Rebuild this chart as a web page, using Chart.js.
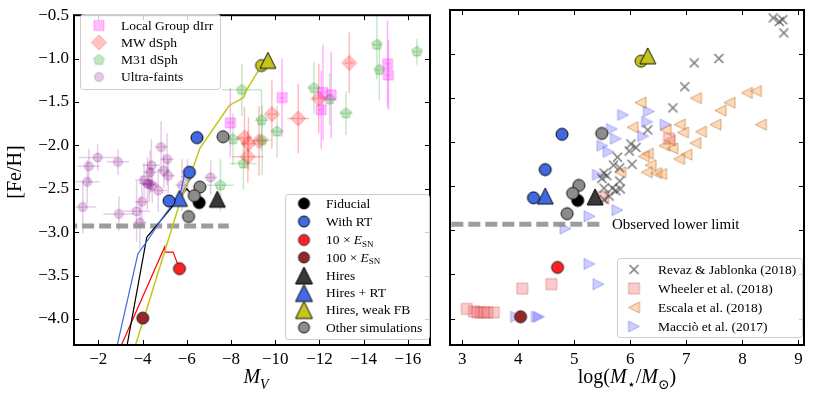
<!DOCTYPE html>
<html>
<head>
<meta charset="utf-8">
<script src="https://cdn.jsdelivr.net/npm/chart.js@4.4.1/dist/chart.umd.min.js"></script>
<style>
  html, body { margin: 0; padding: 0; background: #fff; }
  #wrap { position: relative; width: 814px; height: 393px; }
  canvas { position: absolute; top: 0; }
  #left { left: 0; }
  #right { left: 440px; }
</style>
</head>
<body>
<div id="wrap">
  <canvas id="left" width="440" height="393"></canvas>
  <canvas id="right" width="374" height="393"></canvas>
</div>
<script>
'use strict';

const SERIF = '"Liberation Serif", "DejaVu Serif", serif';

// axes
const MV_RANGE = [-17.0, -0.9];
const LOGM_RANGE = [2.78, 9.1];
const FEH_RANGE = [-4.3, -0.5];
const MV_TICKS = [-2, -4, -6, -8, -10, -12, -14, -16];
const LOGM_TICKS = [3, 4, 5, 6, 7, 8, 9];
const FEH_TICKS = [-4.0, -3.5, -3.0, -2.5, -2.0, -1.5, -1.0, -0.5];

// observed lower limit
const LIMIT_FEH = -2.93;
const LIMIT_MV = [-0.5, -7.9];
const LIMIT_LOGM = [2.5, 5.5];

// observations, left panel: [M_V, [Fe/H]] and [xerr, yerr]
const DIRR = [[-7.97,-1.74],[-10.31,-1.45],[-12.16,-1.39],[-12.53,-1.42],[-12.08,-1.59],[-15.08,-1.06],[-15.12,-1.19]];
const DIRR_ERR = [[0.15,0.4],[0.1,0.45],[0.1,0.55],[0.1,0.5],[0.1,0.45],[0.1,0.5],[0.1,0.4]];
const MW = [[-8.61,-1.91],[-8.79,-1.98],[-8.76,-2.13],[-9.27,-1.95],[-9.85,-1.64],[-11.04,-1.69],[-11.97,-1.46],[-13.35,-1.05]];
const MW_ERR = [[0.3,0.35],[0.3,0.3],[0.7,0.3],[0.3,0.4],[0.2,0.4],[0.5,0.4],[0.3,0.4],[0.2,0.35]];
const M31 = [[-8.49,-1.36],[-8.09,-1.93],[-8.56,-2.21],[-9.38,-1.71],[-9.41,-1.94],[-10.08,-1.84],[-11.75,-1.34],[-13.2,-1.63],[-14.6,-0.84],[-14.71,-1.13],[-16.41,-0.92],[-7.52,-2.46],[-12.46,-1.47]];
const M31_ERR = [[0.9,0.3],[0.4,0.3],[0.6,0.3],[0.3,0.35],[0.4,0.4],[0.3,0.3],[0.3,0.3],[0.3,0.25],[0.2,0.4],[0.2,0.35],[0.2,0.15],[0.6,0.3],[0.3,0.3]];
const UFD = [[-1.5,-2.42],[-1.57,-2.24],[-1.97,-2.14],[-2.89,-2.19],[-4.84,-2.02],[-4.4,-2.23],[-5.11,-2.16],[-4.96,-2.29],[-5.16,-2.35],[-4.34,-2.31],[-4.07,-2.40],[-4.22,-2.44],[-4.44,-2.46],[-4.71,-2.52],[-5.78,-2.46],[-7.08,-2.37],[-1.3,-2.71],[-2.93,-2.79],[-3.73,-2.76],[-3.97,-2.65],[-3.88,-2.89],[-4.3,-2.45],[-6.03,-2.36]];
const UFD_ERR = [[0.55,0.25],[0.5,0.2],[0.85,0.15],[0.5,0.15],[0.3,0.3],[0.4,0.3],[0.3,0.3],[0.3,0.2],[0.3,0.2],[0.3,0.25],[0.4,0.2],[0.4,0.3],[0.3,0.2],[0.4,0.25],[0.3,0.3],[0.3,0.2],[0.6,0.3],[0.7,0.2],[0.6,0.35],[0.3,0.3],[0.3,0.3],[0.3,0.2],[0.3,0.2]];

// simulation tracks, left panel
const TRACK_WEAKFB = [[-3.44,-4.5],[-5.7,-2.65],[-5.94,-2.5],[-6.6,-2.03],[-7.92,-1.54],[-8.56,-1.45],[-8.71,-1.36],[-9.38,-1.08]];
const TRACK_RT = [[-2.68,-4.5],[-3.79,-3.25],[-3.9,-3.21],[-4.19,-3.11],[-4.86,-2.85],[-5.38,-2.67],[-5.75,-2.52],[-5.9,-2.33],[-6.19,-2.37],[-5.67,-2.61]];
const TRACK_FID = [[-3.16,-4.5],[-4.19,-3.06],[-5.3,-2.72],[-5.75,-2.58],[-6.0,-2.5],[-6.56,-2.66]];
const TRACK_E10 = [[-2.7,-4.5],[-5.0,-3.17],[-5.0,-3.23],[-5.38,-3.23],[-5.67,-3.42]];

// simulations, left panel [M_V, [Fe/H]]
const L_FIDUCIAL = [[-6.56,-2.66]];
const L_RT = [[-5.2,-2.64],[-6.12,-2.31],[-6.46,-1.91]];
const L_E10 = [[-5.67,-3.42]];
const L_E100 = [[-4.01,-3.99]];
const L_HIRES = [[-7.38,-2.62]];
const L_HIRES_RT = [[-5.67,-2.61]];
const L_WEAKFB = [[-9.67,-1.02]];
const L_WEAKFB_END = [[-9.38,-1.08]];
const L_OTHER = [[-7.64,-1.9],[-6.59,-2.48],[-6.34,-2.58],[-6.08,-2.82]];

// simulations, right panel [log M*, [Fe/H]]
const R_FIDUCIAL = [[5.06,-2.66]];
const R_RT = [[4.27,-2.63],[4.48,-2.31],[4.78,-1.91]];
const R_E10 = [[4.70,-3.42]];
const R_E100 = [[4.04,-3.98]];
const R_HIRES = [[5.37,-2.62]];
const R_HIRES_RT = [[4.48,-2.61]];
const R_WEAKFB = [[6.31,-1.02]];
const R_WEAKFB_END = [[6.19,-1.08]];
const R_OTHER = [[5.49,-1.90],[5.08,-2.49],[4.97,-2.58],[4.87,-2.81]];

// other simulations, right panel
const REVAZ = [[8.55,-0.59],[8.66,-0.63],[8.72,-0.61],[8.74,-0.76],[7.14,-1.10],[7.58,-1.05],[6.97,-1.37],[6.76,-1.61],[6.31,-1.86],[6.01,-2.02],[6.10,-2.06],[5.98,-2.10],[5.77,-2.17],[5.70,-2.26],[5.81,-2.29],[6.03,-2.25],[5.53,-2.35],[5.49,-2.41],[5.58,-2.38],[5.81,-2.44],[5.82,-2.53],[5.74,-2.55],[5.62,-2.61],[5.53,-2.65],[5.53,-2.52],[5.68,-2.52]];
const WHEELER = [[3.08,-3.89],[3.21,-3.92],[3.27,-3.93],[3.33,-3.93],[3.39,-3.93],[3.45,-3.93],[3.56,-3.93],[4.07,-3.66],[4.59,-3.61],[5.52,-2.62],[6.69,-1.96]];
const ESCALA = [[6.18,-1.55],[7.17,-1.50],[7.61,-1.64],[7.77,-1.55],[8.08,-1.44],[8.24,-1.42],[8.33,-1.80],[7.52,-1.80],[7.26,-1.88],[7.16,-2.01],[7.0,-2.14],[6.87,-2.19],[6.88,-1.80],[6.94,-1.89],[6.63,-1.86],[6.61,-2.04],[6.75,-2.07],[6.04,-1.83],[6.31,-2.13],[6.24,-2.16],[6.36,-2.26],[6.29,-2.34],[6.46,-2.35],[6.55,-2.36],[5.82,-2.34],[6.70,-1.98]];
const MACCIO = [[5.87,-1.69],[6.33,-1.65],[6.30,-1.77],[6.63,-1.80],[6.23,-1.93],[5.67,-1.85],[5.74,-1.96],[5.50,-2.04],[5.61,-2.11],[5.42,-2.37],[5.77,-2.77],[5.27,-2.84],[4.84,-2.98],[5.27,-3.38],[5.43,-3.61],[4.37,-3.98],[4.33,-3.98],[3.96,-3.98]];

// --- markers (matplotlib-like shapes as small canvases) ---
function marker(shape, size, fill, stroke, lw = 1) {
  const pad = Math.ceil(lw) + 1;
  const s = Math.ceil(size) + 2 * pad;
  const c = document.createElement('canvas');
  c.width = s; c.height = s;
  const g = c.getContext('2d');
  const m = s / 2, r = size / 2;
  g.beginPath();
  if (shape === 'circle') g.arc(m, m, r, 0, Math.PI * 2);
  else if (shape === 'square') g.rect(m - r, m - r, size, size);
  else if (shape === 'diamond') { g.moveTo(m, m - r); g.lineTo(m + r, m); g.lineTo(m, m + r); g.lineTo(m - r, m); g.closePath(); }
  else if (shape === 'pentagon') {
    for (let i = 0; i < 5; i++) {
      const a = -Math.PI / 2 + i * 2 * Math.PI / 5;
      g.lineTo(m + r * Math.cos(a), m + r * Math.sin(a));
    }
    g.closePath();
  }
  else if (shape === 'tri-up') { g.moveTo(m, m - r); g.lineTo(m + r, m + r); g.lineTo(m - r, m + r); g.closePath(); }
  else if (shape === 'tri-left') { g.moveTo(m - r, m); g.lineTo(m + r, m - r); g.lineTo(m + r, m + r); g.closePath(); }
  else if (shape === 'tri-right') { g.moveTo(m + r, m); g.lineTo(m - r, m - r); g.lineTo(m - r, m + r); g.closePath(); }
  else if (shape === 'x') { g.moveTo(m - r, m - r); g.lineTo(m + r, m + r); g.moveTo(m + r, m - r); g.lineTo(m - r, m + r); }
  if (shape !== 'x') { g.fillStyle = fill; g.fill(); }
  if (stroke && lw) { g.lineWidth = lw; g.strokeStyle = stroke; g.stroke(); }
  return c;
}

const MK = {
  dirr:    marker('square', 10, 'rgba(255,0,255,0.25)', 'rgba(255,0,255,0.3)'),
  mw:      marker('diamond', 15, 'rgba(255,40,40,0.28)', 'rgba(255,40,40,0.35)'),
  m31:     marker('pentagon', 11, 'rgba(40,160,40,0.28)', 'rgba(40,160,40,0.35)'),
  ufd:     marker('circle', 9, 'rgba(128,0,128,0.22)', 'rgba(128,0,128,0.25)'),
  fid:     marker('circle', 12, '#000', '#000'),
  rt:      marker('circle', 12, '#4169e1', '#000'),
  e10:     marker('circle', 12, '#ff2020', '#222'),
  e100:    marker('circle', 12, '#992626', '#222'),
  other:   marker('circle', 12, '#8c8c8c', '#111'),
  weakEnd: marker('circle', 12, '#c4c41a', '#222'),
  hires:   marker('tri-up', 16, '#383838', '#000'),
  hiresRt: marker('tri-up', 16, '#4169e1', '#111'),
  weak:    marker('tri-up', 16, '#c4c41a', '#111'),
  revaz:   marker('x', 9, null, 'rgba(50,50,50,0.65)', 1.5),
  wheeler: marker('square', 11, 'rgba(240,110,110,0.35)', 'rgba(200,70,70,0.4)'),
  escala:  marker('tri-left', 11, 'rgba(255,160,70,0.4)', 'rgba(170,100,40,0.5)'),
  maccio:  marker('tri-right', 11, 'rgba(90,90,255,0.3)', 'rgba(70,70,220,0.35)'),
};
const LMK = {
  fid:     marker('circle', 11, '#000', '#000'),
  rt:      marker('circle', 11, '#4169e1', '#000'),
  e10:     marker('circle', 11, '#ff2020', '#222'),
  e100:    marker('circle', 11, '#992626', '#222'),
  other:   marker('circle', 11, '#8c8c8c', '#111'),
  hires:   marker('tri-up', 17, '#383838', '#000'),
  hiresRt: marker('tri-up', 17, '#4169e1', '#111'),
  weak:    marker('tri-up', 17, '#c4c41a', '#111'),
};

const pts = a => a.map(([x, y]) => ({ x, y }));

function scatterSet(data, mk, order, err, errColor) {
  return {
    data: pts(data), pointStyle: mk, pointRadius: mk.width / 2, pointHoverRadius: mk.width / 2,
    borderWidth: 0, backgroundColor: 'rgba(0,0,0,0)', borderColor: 'rgba(0,0,0,0)',
    showLine: false, order, err, errColor,
  };
}
function lineSet(data, color, width, order, dash) {
  return {
    data: pts(data), showLine: true, pointRadius: 0, borderColor: color, borderWidth: width,
    borderDash: dash || [], borderCapStyle: 'butt', tension: 0, order, fill: false,
  };
}

// --- rich text (italics / subscripts) ---
function drawParts(ctx, parts, x, y, size, align) {
  const seg = parts.map(([t, f = '']) => {
    const sub = f.includes('s');
    const fs = sub ? Math.round(size * 0.7) : size;
    const font = (f.includes('i') ? 'italic ' : '') + fs + 'px ' + SERIF;
    ctx.font = font;
    return { t, font, w: ctx.measureText(t).width, dy: sub ? size * 0.28 : 0 };
  });
  const total = seg.reduce((a, s) => a + s.w, 0);
  let cx = align === 'center' ? x - total / 2 : x;
  ctx.textAlign = 'left';
  seg.forEach(s => { ctx.font = s.font; ctx.fillText(s.t, cx, y + s.dy); cx += s.w; });
}

// frame, inward ticks, titles, legends
function panelPlugin(spec) {
  return {
    id: 'panel',
    beforeDatasetsDraw(chart) {
      const { ctx, chartArea: a, scales: { x, y } } = chart;
      ctx.save();
      ctx.beginPath(); ctx.rect(a.left, a.top, a.right - a.left, a.bottom - a.top); ctx.clip();
      chart.data.datasets.forEach(ds => {
        if (!ds.err) return;
        ctx.strokeStyle = ds.errColor; ctx.lineWidth = 1.5;
        ds.data.forEach((p, i) => {
          const [ex, ey] = ds.err[i];
          ctx.beginPath();
          ctx.moveTo(x.getPixelForValue(p.x - ex), y.getPixelForValue(p.y));
          ctx.lineTo(x.getPixelForValue(p.x + ex), y.getPixelForValue(p.y));
          ctx.moveTo(x.getPixelForValue(p.x), y.getPixelForValue(p.y - ey));
          ctx.lineTo(x.getPixelForValue(p.x), y.getPixelForValue(p.y + ey));
          ctx.stroke();
        });
      });
      ctx.restore();
    },
    afterDraw(chart) {
      const { ctx, chartArea: a, scales: { x, y } } = chart;
      ctx.save();
      // inward ticks on all four sides
      ctx.strokeStyle = '#000'; ctx.lineWidth = 1;
      const TL = 5;
      x.ticks.forEach(t => {
        const px = Math.round(x.getPixelForValue(t.value)) + 0.5;
        ctx.beginPath();
        ctx.moveTo(px, a.bottom); ctx.lineTo(px, a.bottom - TL);
        ctx.moveTo(px, a.top); ctx.lineTo(px, a.top + TL);
        ctx.stroke();
      });
      y.ticks.forEach(t => {
        const py = Math.round(y.getPixelForValue(t.value)) + 0.5;
        ctx.beginPath();
        ctx.moveTo(a.left, py); ctx.lineTo(a.left + TL, py);
        ctx.moveTo(a.right, py); ctx.lineTo(a.right - TL, py);
        ctx.stroke();
      });
      ctx.lineWidth = 2;
      ctx.strokeRect(a.left, a.top, a.right - a.left, a.bottom - a.top);

      ctx.fillStyle = '#000';
      ctx.textBaseline = 'alphabetic';
      if (spec.xTitle) drawParts(ctx, spec.xTitle.parts, spec.xTitle.x, spec.xTitle.y, 20, 'center');
      if (spec.yTitle) {
        ctx.save();
        ctx.translate(spec.yTitle.x, spec.yTitle.y);
        ctx.rotate(-Math.PI / 2);
        drawParts(ctx, spec.yTitle.parts, 0, 0, 20, 'center');
        ctx.restore();
      }
      (spec.notes || []).forEach(n => drawParts(ctx, n.parts, n.x, n.y, n.size, 'left'));

      // legends
      (spec.legends || []).forEach(L => {
        const [x0, y0, x1, y1] = L.box;
        ctx.beginPath();
        ctx.roundRect(x0 + 0.5, y0 + 0.5, x1 - x0, y1 - y0, 3);
        ctx.fillStyle = 'rgba(255,255,255,0.8)'; ctx.fill();
        ctx.strokeStyle = '#cccccc'; ctx.lineWidth = 1; ctx.stroke();
        ctx.fillStyle = '#000';
        ctx.textBaseline = 'middle';
        L.rows.forEach((r, i) => {
          const ry = L.rowY[i];
          ctx.drawImage(r.mk, L.markerX - r.mk.width / 2, ry - r.mk.height / 2);
          drawParts(ctx, r.parts, L.textX, ry + 0.5, L.size, 'left');
        });
      });
      ctx.restore();
    },
  };
}

function scales(xRange, xTicks, showYLabels, yWidth) {
  const fmt = v => String(v).replace('-', '\u2212');
  return {
    x: {
      type: 'linear', min: xRange[0], max: xRange[1], reverse: xRange === MV_RANGE,
      afterBuildTicks: s => { s.ticks = xTicks.map(v => ({ value: v })); },
      afterFit: s => { s.height = 48; },
      grid: { display: false, drawTicks: false }, border: { display: false },
      ticks: { color: '#000', padding: 4, maxRotation: 0, autoSkip: false,
               font: { family: SERIF, size: 17 }, callback: v => fmt(v) },
    },
    y: {
      type: 'linear', min: FEH_RANGE[0], max: FEH_RANGE[1],
      afterBuildTicks: s => { s.ticks = FEH_TICKS.map(v => ({ value: v })); },
      afterFit: s => { s.width = yWidth; },
      grid: { display: false, drawTicks: false }, border: { display: false },
      ticks: { display: showYLabels, color: '#000', padding: 5, autoSkip: false,
               font: { family: SERIF, size: 17 }, callback: v => fmt(v.toFixed(1)) },
    },
  };
}

const baseOptions = (padRight) => ({
  responsive: false, animation: false, devicePixelRatio: 1, events: [],
  layout: { padding: { top: 6, right: padRight, left: 0, bottom: 0 } },
  plugins: { legend: { display: false }, tooltip: { enabled: false } },
});

// ---------------- left panel ----------------
new Chart(document.getElementById('left'), {
  type: 'scatter',
  data: {
    datasets: [
      scatterSet(L_OTHER, MK.other, 0),
      scatterSet(L_E100, MK.e100, 0),
      scatterSet(L_E10, MK.e10, 0),
      scatterSet(L_RT, MK.rt, 0),
      scatterSet(L_FIDUCIAL, MK.fid, 0),
      scatterSet(L_HIRES, MK.hires, 0),
      scatterSet(L_HIRES_RT, MK.hiresRt, 0),
      scatterSet(L_WEAKFB, MK.weak, 0),
      scatterSet(L_WEAKFB_END, MK.weakEnd, 1),
      lineSet(TRACK_WEAKFB, '#c4c41a', 1.5, 2),
      lineSet(TRACK_RT, '#4169e1', 1.2, 2),
      lineSet(TRACK_FID, '#000', 1.2, 2),
      lineSet(TRACK_E10, '#ff0000', 1.2, 2),
      lineSet(LIMIT_MV.map(v => [v, LIMIT_FEH]), 'rgba(140,140,140,0.85)', 5, 3, [12, 5]),
      scatterSet(DIRR, MK.dirr, 5, DIRR_ERR, 'rgba(255,0,255,0.3)'),
      scatterSet(MW, MK.mw, 6, MW_ERR, 'rgba(255,40,40,0.3)'),
      scatterSet(M31, MK.m31, 7, M31_ERR, 'rgba(40,160,40,0.25)'),
      scatterSet(UFD, MK.ufd, 8, UFD_ERR, 'rgba(128,0,128,0.2)'),
    ],
  },
  options: Object.assign(baseOptions(4), { scales: scales(MV_RANGE, MV_TICKS, true, 74) }),
  plugins: [panelPlugin({
    xTitle: { parts: [['M', 'i'], ['V', 'is']], x: 256, y: 383 },
    yTitle: { parts: [['[Fe/H]']], x: 21, y: 172 },
    legends: [
      {
        box: [80, 14, 220, 89], markerX: 99, textX: 121, size: 13.5,
        rowY: [25.5, 42.5, 60, 77],
        rows: [
          { mk: MK.dirr, parts: [['Local Group dIrr']] },
          { mk: MK.mw, parts: [['MW dSph']] },
          { mk: MK.m31, parts: [['M31 dSph']] },
          { mk: MK.ufd, parts: [['Ultra-faints']] },
        ],
      },
      {
        box: [285, 194, 429, 339], markerX: 304, textX: 326, size: 13.5,
        rowY: [203.5, 221.5, 240, 257.5, 275.5, 293, 310, 327.5],
        rows: [
          { mk: LMK.fid, parts: [['Fiducial']] },
          { mk: LMK.rt, parts: [['With RT']] },
          { mk: LMK.e10, parts: [['10 \u00d7 '], ['E', 'i'], ['SN', 's']] },
          { mk: LMK.e100, parts: [['100 \u00d7 '], ['E', 'i'], ['SN', 's']] },
          { mk: LMK.hires, parts: [['Hires']] },
          { mk: LMK.hiresRt, parts: [['Hires + RT']] },
          { mk: LMK.weak, parts: [['Hires, weak FB']] },
          { mk: LMK.other, parts: [['Other simulations']] },
        ],
      },
    ],
  })],
});

// ---------------- right panel ----------------
new Chart(document.getElementById('right'), {
  type: 'scatter',
  data: {
    datasets: [
      scatterSet(R_OTHER, MK.other, 0),
      scatterSet(R_E100, MK.e100, 0),
      scatterSet(R_E10, MK.e10, 0),
      scatterSet(R_RT, MK.rt, 0),
      scatterSet(R_FIDUCIAL, MK.fid, 0),
      scatterSet(R_HIRES, MK.hires, 0),
      scatterSet(R_HIRES_RT, MK.hiresRt, 0),
      scatterSet(R_WEAKFB, MK.weak, 0),
      scatterSet(R_WEAKFB_END, MK.weakEnd, 1),
      lineSet(LIMIT_LOGM.map(v => [v, LIMIT_FEH]), 'rgba(140,140,140,0.85)', 5, 3, [12, 5]),
      scatterSet(REVAZ, MK.revaz, 5),
      scatterSet(WHEELER, MK.wheeler, 6),
      scatterSet(ESCALA, MK.escala, 7),
      scatterSet(MACCIO, MK.maccio, 8),
    ],
  },
  options: Object.assign(baseOptions(5), { scales: scales(LOGM_RANGE, LOGM_TICKS, false, 5) }),
  plugins: [panelPlugin({
    xTitle: { parts: [['log('], ['M', 'i'], ['\u22c6', 's'], ['/'], ['M', 'i'], ['\u2299', 's'], [')']], x: 187, y: 383 },
    notes: [{ parts: [['Observed lower limit']], x: 172, y: 229, size: 15 }],
    legends: [
      {
        box: [177, 258, 362, 337], markerX: 194, textX: 218, size: 13.5,
        rowY: [269.5, 288.5, 307.5, 326.5],
        rows: [
          { mk: MK.revaz, parts: [['Revaz & Jablonka (2018)']] },
          { mk: MK.wheeler, parts: [['Wheeler et al. (2018)']] },
          { mk: MK.escala, parts: [['Escala et al. (2018)']] },
          { mk: MK.maccio, parts: [['Macci\u00f2 et al. (2017)']] },
        ],
      },
    ],
  })],
});
</script>
</body>
</html>
